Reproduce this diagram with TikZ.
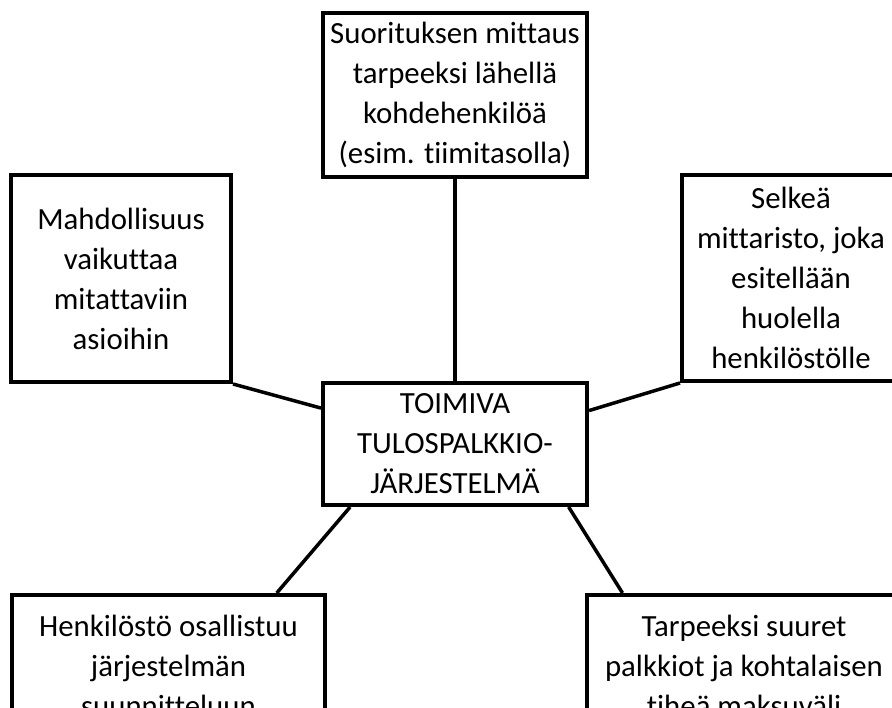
\documentclass[tikz,border=0pt]{standalone}
\usepackage{fontspec}
\setmainfont{Carlito}[Ligatures=NoCommon]
\usepackage{tikz}

\begin{document}
\begin{tikzpicture}[x=1pt, y=-1pt,
    box/.style={draw, line width=4pt, fill=white, align=center, inner sep=0pt,
      font=\fontsize{30.8pt}{40pt}\selectfont},
    link/.style={line width=3.5pt}]
    % page frame
    \useasboundingbox (0, 0) rectangle (892, 708);
    \clip (0, 0) rectangle (892, 708);

    % centre
    \node[box, minimum width=264pt, minimum height=122pt] (toimiva) at (455, 444)
      {TOIMIVA\\TULOSPALKKIO-\\JÄRJESTELMÄ};

    % upper boxes
    \node[box, minimum width=264pt, minimum height=164pt] (mittaus) at (455, 95)
      {Suorituksen mittaus\\tarpeeksi lähellä\\kohdehenkilöä\\(esim. tiimitasolla)};
    \node[box, minimum width=220pt, minimum height=207pt] (vaikutus) at (121, 278.5)
      {Mahdollisuus\\vaikuttaa\\mitattaviin\\asioihin};
    \node[box, minimum width=218pt, minimum height=206pt] (mittaristo) at (791, 278)
      {Selkeä\\mittaristo, joka\\esitellään\\huolella\\henkilöstölle};

    % lower boxes, cut by the frame
    \node[box, minimum width=313pt, minimum height=142pt] (osallistuu) at (168.5, 666)
      {Henkilöstö osallistuu\\järjestelmän\\suunnitteluun};
    \node[box, minimum width=314pt, minimum height=142pt] (maksuvali) at (744, 666)
      {Tarpeeksi suuret\\palkkiot ja kohtalaisen\\tiheä maksuväli};

    % links to the centre
    \draw[link] (mittaus.south) -- (toimiva.north);
    \draw[link] (vaikutus.south east) -- (toimiva.165);
    \draw[link] (mittaristo.south west) -- (toimiva.14);
    \draw[link] (toimiva.211) -- (osallistuu.34);
    \draw[link] (toimiva.-29) -- (maksuvali.149);
  \end{tikzpicture}
\end{document}
